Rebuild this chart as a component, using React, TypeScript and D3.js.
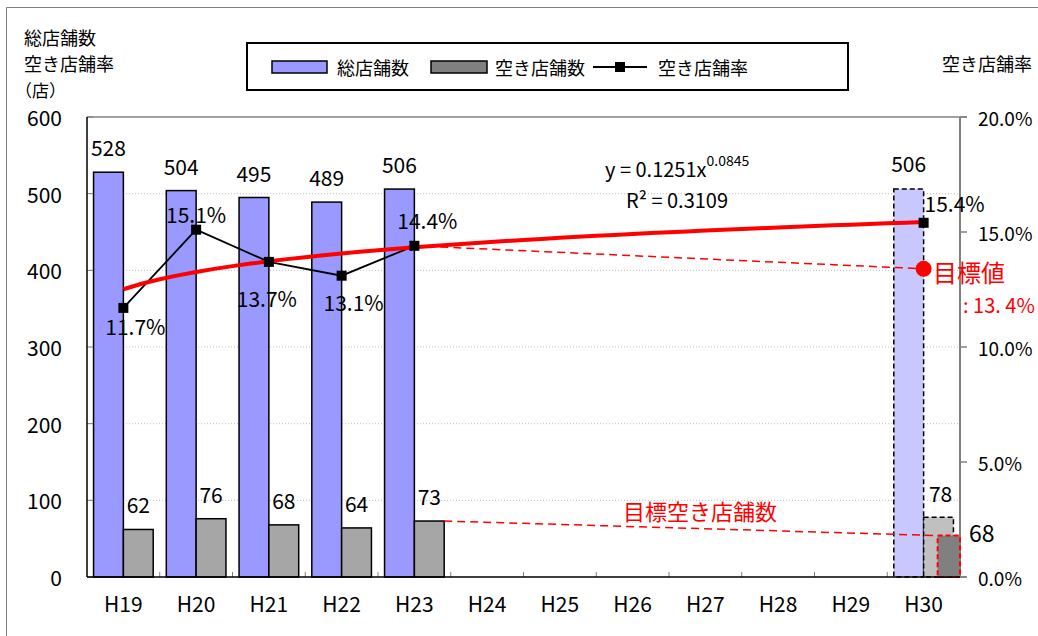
import React from 'react';
import * as d3 from 'd3';

const categories = ['H19', 'H20', 'H21', 'H22', 'H23', 'H24', 'H25', 'H26', 'H27', 'H28', 'H29', 'H30'];
const actualYears = ['H19', 'H20', 'H21', 'H22', 'H23'];
const totalStores = [528, 504, 495, 489, 506];
const vacantStores = [62, 76, 68, 64, 73];
const vacancyRate = [11.7, 15.1, 13.7, 13.1, 14.4];
const projYear = 'H30';
const projTotal = 506;
const projVacant = 78;
const projRate = 15.4;
const targetRate = 13.4;
const targetVacantLabel = 68;
const targetVacantBar = 54;
const trendA = 0.1251;
const trendB = 0.0845;
const leftTicks = [0, 100, 200, 300, 400, 500, 600];
const rightTicks = [0, 5, 10, 15, 20];

const FONT = "'Noto Sans CJK JP', 'Noto Sans', sans-serif";

export default function App() {
  const L = 87, R = 960, T = 117, B = 577;
  const x = d3.scaleBand<string>().domain(categories).range([L, R]).padding(0);
  const yL = d3.scaleLinear().domain([0, 600]).range([B, T]);
  const yR = d3.scaleLinear().domain([0, 20]).range([B, T]);
  const bw = x.bandwidth() * 0.41;
  const cx = (c: string) => (x(c) as number) + x.bandwidth() / 2;

  const rateLine = d3.line<number>()
    .x((_, i) => cx(actualYears[i]))
    .y((d) => yR(d));

  const trendPts = d3.range(1, 12.001, 0.25).map((t) => [
    (x(categories[0]) as number) + x.bandwidth() / 2 + (t - 1) * x.step(),
    yR(trendA * Math.pow(t, trendB) * 100),
  ] as [number, number]);
  const trendLine = d3.line();

  const rateLabelOffsets = [
    [12, 18], [0, -16], [-2, 36], [12, 26], [13, -26],
  ];

  const px = cx(projYear);
  const NUM = 21;

  return (
    <svg width={1038} height={636} style={{ position: 'absolute', left: 0, top: 0, background: '#fff' }} fontFamily={FONT}>
      {/* outer border */}
      <path d="M6.5,636 V7.5 H1038" fill="none" stroke="#808080" strokeWidth={1} />

      {/* top-left title */}
      <g fill="#000">
        <text x={24} y={37} fontSize={18} dominantBaseline="central">総店舗数</text>
        <text x={24} y={63} fontSize={18} dominantBaseline="central">空き店舗率</text>
        <text x={15} y={89} fontSize={17} dominantBaseline="central">（店）</text>
        <text x={942} y={63} fontSize={18} dominantBaseline="central">空き店舗率</text>
      </g>

      {/* legend */}
      <rect x={247} y={43} width={601} height={47} fill="#fff" stroke="#000" strokeWidth={2} />
      <rect x={272} y={61} width={55} height={12} fill="#9999FF" stroke="#000" strokeWidth={1.5} />
      <text x={337} y={67} fontSize={18} dominantBaseline="central">総店舗数</text>
      <rect x={431} y={61} width={56} height={12} fill="#808080" stroke="#000" strokeWidth={1.5} />
      <text x={495} y={67} fontSize={18} dominantBaseline="central">空き店舗数</text>
      <line x1={593} x2={647} y1={67} y2={67} stroke="#000" strokeWidth={2} />
      <rect x={615} y={62} width={10} height={10} fill="#000" />
      <text x={658} y={67} fontSize={18} dominantBaseline="central">空き店舗率</text>

      {/* gridlines */}
      {leftTicks.filter((t) => t > 0 && t < 600).map((t) => (
        <line key={t} x1={L} x2={R} y1={yL(t)} y2={yL(t)} stroke="#BFBFBF" strokeWidth={1} strokeDasharray="1,2" />
      ))}

      {/* plot frame top / right axis */}
      <line x1={L} x2={R + 7} y1={T} y2={T} stroke="#808080" strokeWidth={1.5} />
      <line x1={R} x2={R} y1={T} y2={B} stroke="#808080" strokeWidth={2} />
      {rightTicks.map((t) => (
        <g key={t}>
          <line x1={R} x2={R + 7} y1={yR(t)} y2={yR(t)} stroke="#808080" strokeWidth={1.5} />
          <text x={978} y={yR(t)} fontSize={19} dominantBaseline="central">{t.toFixed(1)}%</text>
        </g>
      ))}

      {/* left axis ticks + labels */}
      {leftTicks.map((t) => (
        <g key={t}>
          <line x1={L} x2={L + 6} y1={yL(t)} y2={yL(t)} stroke="#808080" strokeWidth={1} />
          <text x={62} y={yL(t)} fontSize={NUM} textAnchor="end" dominantBaseline="central">{t}</text>
        </g>
      ))}

      {/* bottom ticks */}
      {categories.slice(1).map((c) => (
        <line key={c} x1={x(c) as number} x2={x(c) as number} y1={B} y2={B - 5} stroke="#808080" strokeWidth={1} />
      ))}

      {/* actual bars */}
      {actualYears.map((c, i) => (
        <g key={c}>
          <rect x={cx(c) - bw} y={yL(totalStores[i])} width={bw} height={B - yL(totalStores[i])} fill="#9999FF" stroke="#000" strokeWidth={1.5} />
          <rect x={cx(c)} y={yL(vacantStores[i])} width={bw} height={B - yL(vacantStores[i])} fill="#A6A6A6" stroke="#000" strokeWidth={1.5} />
          <text x={cx(c) - bw / 2} y={yL(totalStores[i]) - 25} fontSize={NUM} textAnchor="middle" dominantBaseline="central">{totalStores[i]}</text>
          <text x={cx(c) + bw / 2} y={yL(vacantStores[i]) - 25} fontSize={NUM} textAnchor="middle" dominantBaseline="central">{vacantStores[i]}</text>
        </g>
      ))}

      {/* projection bars */}
      <rect x={px - bw} y={yL(projTotal)} width={bw} height={B - yL(projTotal)} fill="#C8C8FF" stroke="#000" strokeWidth={1.5} strokeDasharray="5,3" />
      <rect x={px} y={yL(projVacant)} width={bw} height={B - yL(projVacant)} fill="#C0C0C0" stroke="#000" strokeWidth={1.5} strokeDasharray="5,3" />
      <rect x={px + 14} y={yL(targetVacantBar)} width={R - px - 14} height={B - yL(targetVacantBar)} fill="#808080" stroke="#FF0000" strokeWidth={2} strokeDasharray="5,3" />
      <text x={px - bw / 2} y={yL(projTotal) - 26} fontSize={NUM} textAnchor="middle" dominantBaseline="central">{projTotal}</text>
      <text x={px + bw / 2 + 2} y={yL(projVacant) - 24} fontSize={NUM} textAnchor="middle" dominantBaseline="central">{projVacant}</text>
      <text x={969} y={532} fontSize={23} dominantBaseline="central">{targetVacantLabel}</text>

      {/* bottom axis */}
      <line x1={L} x2={R} y1={B} y2={B} stroke="#000" strokeWidth={1.5} />
      <line x1={R} x2={R + 7} y1={B} y2={B} stroke="#808080" strokeWidth={1.5} />
      <line x1={L} x2={L} y1={T} y2={B} stroke="#000" strokeWidth={1.5} />

      {/* x labels */}
      {categories.map((c) => (
        <text key={c} x={cx(c)} y={603} fontSize={NUM} textAnchor="middle" dominantBaseline="central">{c}</text>
      ))}

      {/* target dashed lines */}
      <line x1={cx('H23') + bw} y1={yL(vacantStores[4])} x2={px + 14} y2={yL(targetVacantBar)} stroke="#FF0000" strokeWidth={1.5} strokeDasharray="8,5" />
      <line x1={cx('H23')} y1={yR(vacancyRate[4])} x2={px} y2={yR(targetRate)} stroke="#FF0000" strokeWidth={1.5} strokeDasharray="8,5" />
      <circle cx={px} cy={yR(targetRate)} r={8} fill="#FF0000" />

      {/* rate line */}
      <path d={rateLine(vacancyRate) as string} fill="none" stroke="#000" strokeWidth={1.8} />
      {/* trend */}
      <path d={trendLine(trendPts) as string} fill="none" stroke="#FF0000" strokeWidth={4} />
      {vacancyRate.map((v, i) => (
        <g key={i}>
          <rect x={cx(actualYears[i]) - 5} y={yR(v) - 5} width={10} height={10} fill="#000" />
          <text x={cx(actualYears[i]) + rateLabelOffsets[i][0]} y={yR(v) + rateLabelOffsets[i][1]} fontSize={NUM} textAnchor="middle" dominantBaseline="central">{v.toFixed(1)}%</text>
        </g>
      ))}
      <rect x={px - 5} y={yR(projRate) - 5} width={10} height={10} fill="#000" />
      <text x={px + 31} y={yR(projRate) - 20} fontSize={NUM} textAnchor="middle" dominantBaseline="central">{projRate.toFixed(1)}%</text>

      {/* equation */}
      <text x={605} y={168} fontSize={20} dominantBaseline="central">
        y = {trendA}x<tspan fontSize={14} dy={-8}>{trendB}</tspan>
      </text>
      <text x={626} y={199} fontSize={20} dominantBaseline="central">R² = 0.3109</text>

      {/* red annotations */}
      <text x={623} y={510} fontSize={22} fill="#FF0000" dominantBaseline="central">目標空き店舗数</text>
      <text x={933} y={271} fontSize={24} fill="#FF0000" dominantBaseline="central">目標値</text>
      <text x={963} y={304} fontSize={20} fill="#FF0000" dominantBaseline="central">: 13. 4%</text>
    </svg>
  );
}
